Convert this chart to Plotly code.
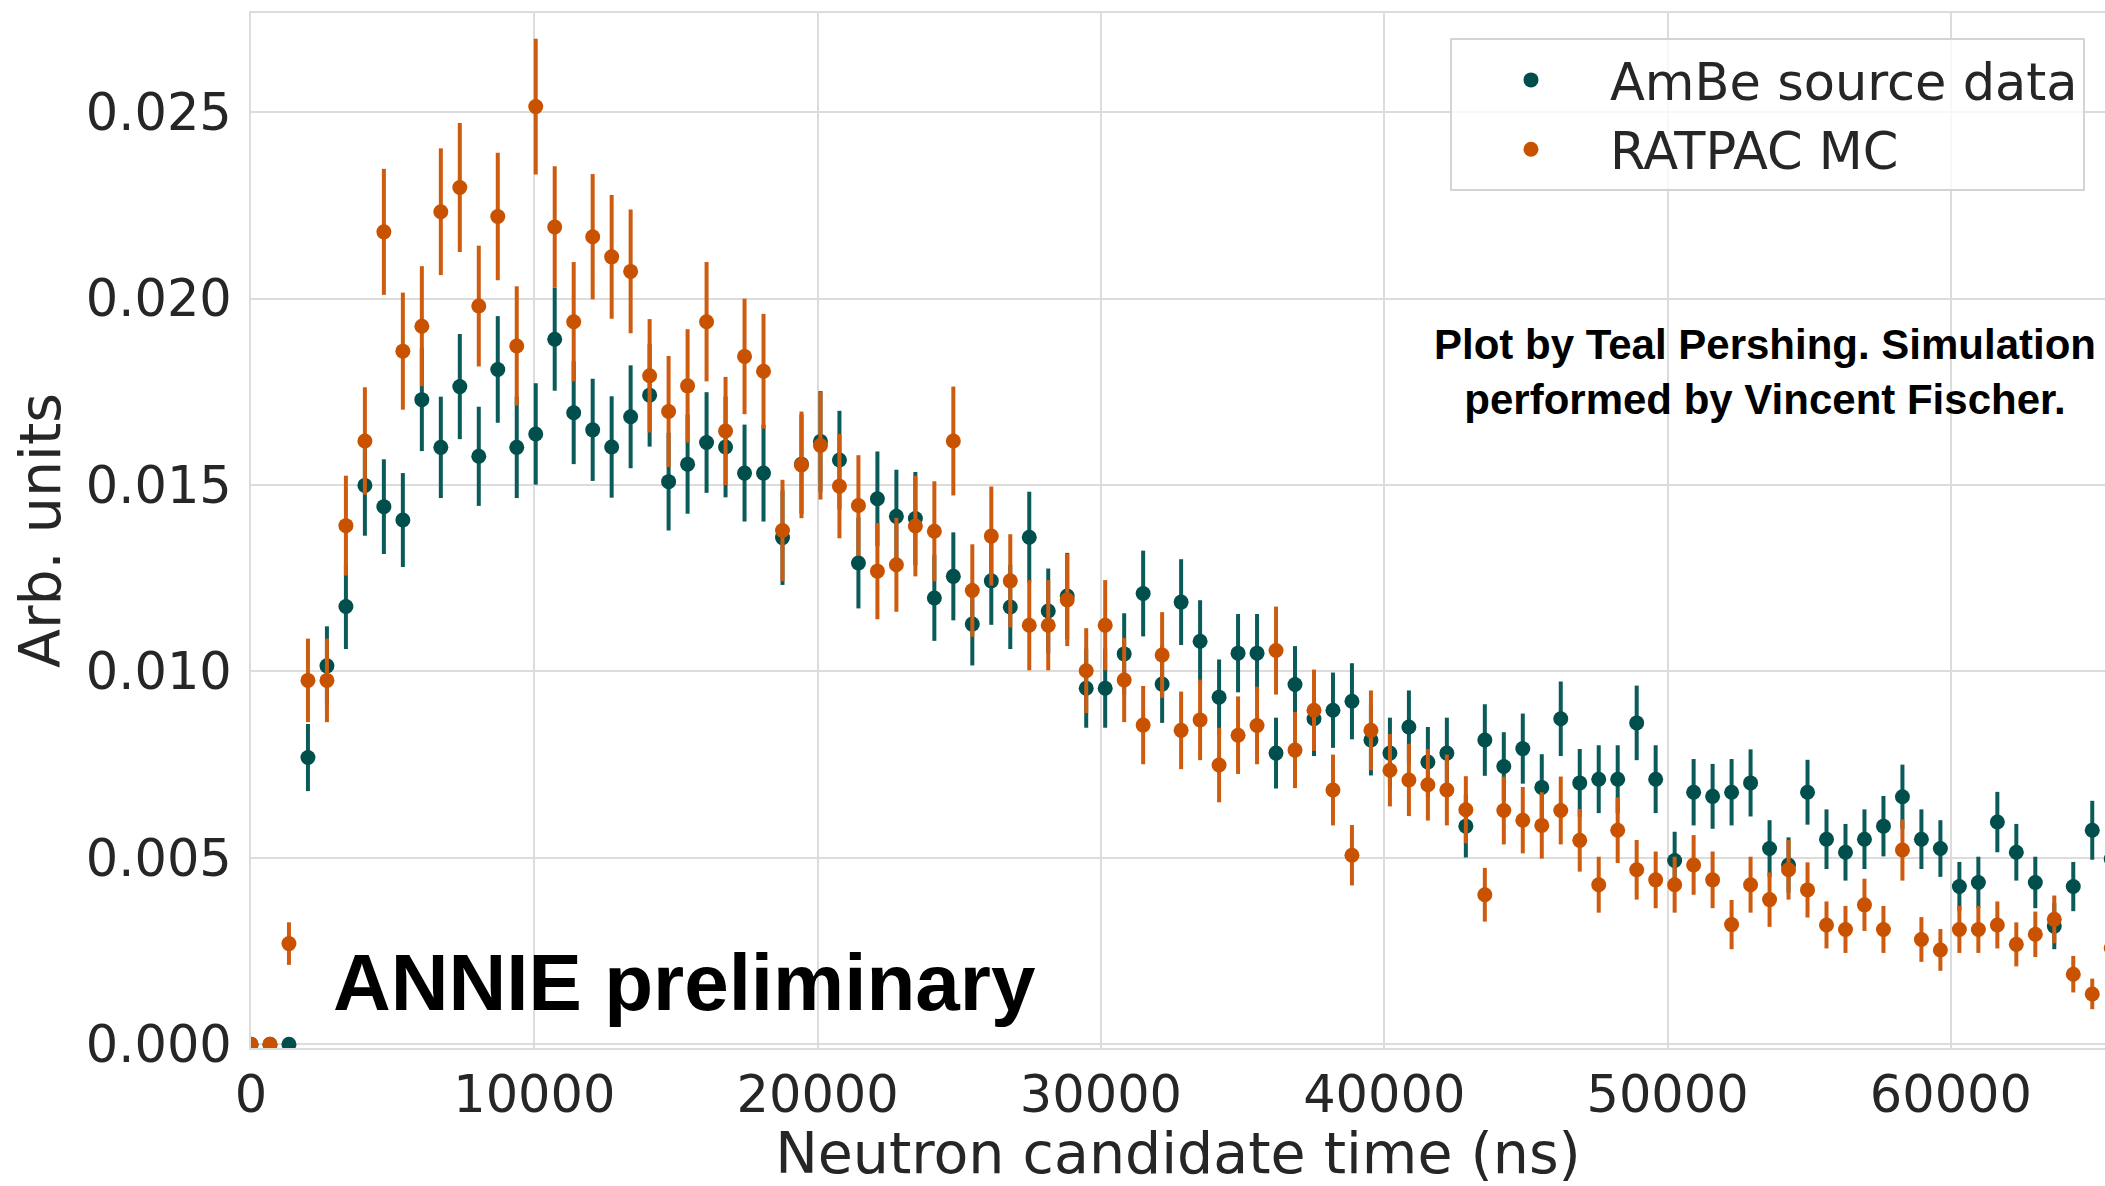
import plotly.graph_objects as go

# ---- data ----
time_ns = [0, 670, 1340, 2010, 2680, 3350, 4020, 4690, 5360, 6030, 6700, 7370, 8040, 8710,
           9380, 10050, 10720, 11390, 12060, 12730, 13400, 14070, 14740, 15410, 16080, 16750,
           17420, 18090, 18760, 19430, 20100, 20770, 21440, 22110, 22780, 23450, 24120, 24790,
           25460, 26130, 26800, 27470, 28140, 28810, 29480, 30150, 30820, 31490, 32160, 32830,
           33500, 34170, 34840, 35510, 36180, 36850, 37520, 38190, 38860, 39530, 40200, 40870,
           41540, 42210, 42880, 43550, 44220, 44890, 45560, 46230, 46900, 47570, 48240, 48910,
           49580, 50250, 50920, 51590, 52260, 52930, 53600, 54270, 54940, 55610, 56280, 56950,
           57620, 58290, 58960, 59630, 60300, 60970, 61640, 62310, 62980, 63650, 64320, 64990,
           65660]

ambe_data = [0.0, 0.0, 0.0, 0.00769, 0.01015, 0.01174, 0.01499, 0.01442, 0.01406, 0.01729,
             0.01601, 0.01764, 0.01577, 0.01810, 0.01601, 0.01637, 0.01891, 0.01694, 0.01648,
             0.01602, 0.01683, 0.01741, 0.01509, 0.01556, 0.01614, 0.01602, 0.01532, 0.01532,
             0.01359, 0.01556, 0.01617, 0.01567, 0.01291, 0.01463, 0.01416, 0.01410, 0.01197,
             0.01255, 0.01127, 0.01243, 0.01173, 0.01360, 0.01162, 0.01202, 0.00955, 0.00955,
             0.01047, 0.01209, 0.00966, 0.01186, 0.01081, 0.00931, 0.01049, 0.01049, 0.00781,
             0.00965, 0.00873, 0.00896, 0.00920, 0.00816, 0.00781, 0.00851, 0.00757, 0.00781,
             0.00585, 0.00816, 0.00745, 0.00793, 0.00689, 0.00873, 0.00701, 0.00711, 0.00711,
             0.00862, 0.00711, 0.00493, 0.00676, 0.00665, 0.00676, 0.00701, 0.00525, 0.00481,
             0.00676, 0.00550, 0.00515, 0.00550, 0.00585, 0.00664, 0.00550, 0.00525, 0.00423,
             0.00434, 0.00596, 0.00515, 0.00434, 0.00317, 0.00423, 0.00574, 0.00497]

ambe_err = [0.0, 0.0, 0.0, 0.00090, 0.00106, 0.00114, 0.00135, 0.00127, 0.00126, 0.00138,
            0.00136, 0.00141, 0.00133, 0.00143, 0.00136, 0.00136, 0.00138, 0.00138, 0.00137,
            0.00136, 0.00138, 0.00138, 0.00131, 0.00133, 0.00135, 0.00135, 0.00130, 0.00130,
            0.00127, 0.00133, 0.00135, 0.00132, 0.00122, 0.00127, 0.00125, 0.00125, 0.00115,
            0.00118, 0.00111, 0.00118, 0.00113, 0.00122, 0.00114, 0.00116, 0.00106, 0.00106,
            0.00109, 0.00115, 0.00104, 0.00115, 0.00110, 0.00101, 0.00105, 0.00105, 0.00095,
            0.00103, 0.00100, 0.00101, 0.00102, 0.00095, 0.00095, 0.00098, 0.00094, 0.00095,
            0.00084, 0.00096, 0.00092, 0.00094, 0.00089, 0.00100, 0.00091, 0.00091, 0.00091,
            0.00100, 0.00091, 0.00077, 0.00089, 0.00087, 0.00089, 0.00090, 0.00076, 0.00074,
            0.00087, 0.00080, 0.00076, 0.00080, 0.00081, 0.00086, 0.00080, 0.00076, 0.00066,
            0.00069, 0.00081, 0.00076, 0.00069, 0.00062, 0.00066, 0.00079, 0.00074]

ratpac_mc = [0.0, 0.0, 0.00270, 0.00976, 0.00976, 0.01391, 0.01618, 0.02179, 0.01859, 0.01926,
             0.02233, 0.02298, 0.01980, 0.02220, 0.01873, 0.02515, 0.02192, 0.01938, 0.02166,
             0.02112, 0.02073, 0.01793, 0.01697, 0.01766, 0.01938, 0.01645, 0.01845, 0.01805,
             0.01378, 0.01554, 0.01606, 0.01497, 0.01445, 0.01269, 0.01286, 0.01390, 0.01376,
             0.01618, 0.01217, 0.01363, 0.01243, 0.01124, 0.01124, 0.01192, 0.01002, 0.01124,
             0.00977, 0.00856, 0.01044, 0.00842, 0.00870, 0.00749, 0.00829, 0.00855, 0.01056,
             0.00789, 0.00896, 0.00682, 0.00507, 0.00842, 0.00735, 0.00709, 0.00696, 0.00682,
             0.00629, 0.00401, 0.00627, 0.00601, 0.00587, 0.00627, 0.00547, 0.00428, 0.00574,
             0.00468, 0.00441, 0.00428, 0.00481, 0.00441, 0.00321, 0.00428, 0.00388, 0.00468,
             0.00414, 0.00320, 0.00308, 0.00374, 0.00308, 0.00521, 0.00281, 0.00253, 0.00308,
             0.00308, 0.00320, 0.00268, 0.00295, 0.00335, 0.00188, 0.00135, 0.00258]

ratpac_err = [0.0, 0.0, 0.00057, 0.00112, 0.00112, 0.00134, 0.00144, 0.00169, 0.00157, 0.00161,
              0.00170, 0.00173, 0.00162, 0.00171, 0.00160, 0.00182, 0.00163, 0.00160, 0.00168,
              0.00166, 0.00166, 0.00152, 0.00149, 0.00152, 0.00160, 0.00145, 0.00155, 0.00154,
              0.00136, 0.00143, 0.00145, 0.00140, 0.00135, 0.00129, 0.00126, 0.00135, 0.00134,
              0.00146, 0.00124, 0.00133, 0.00125, 0.00121, 0.00121, 0.00124, 0.00114, 0.00121,
              0.00113, 0.00105, 0.00115, 0.00104, 0.00108, 0.00100, 0.00104, 0.00104, 0.00118,
              0.00102, 0.00109, 0.00095, 0.00081, 0.00107, 0.00097, 0.00097, 0.00096, 0.00095,
              0.00090, 0.00072, 0.00091, 0.00089, 0.00089, 0.00091, 0.00084, 0.00075, 0.00088,
              0.00080, 0.00076, 0.00075, 0.00080, 0.00076, 0.00066, 0.00075, 0.00073, 0.00080,
              0.00074, 0.00063, 0.00063, 0.00070, 0.00063, 0.00082, 0.00060, 0.00056, 0.00063,
              0.00063, 0.00063, 0.00059, 0.00061, 0.00064, 0.00049, 0.00041, 0.00056]

x_tickvals = [0, 10000, 20000, 30000, 40000, 50000, 60000]
x_ticktext = ["0", "10000", "20000", "30000", "40000", "50000", "60000"]
y_tickvals = [0.0, 0.005, 0.010, 0.015, 0.020, 0.025]
y_ticktext = ["0.000", "0.005", "0.010", "0.015", "0.020", "0.025"]

# ---- styles ----
TEAL = "#004f4d"
TEAL_BAR = "#0a5b59"
ORANGE = "#c85200"
ORANGE_BAR = "#cd5b10"
GRID = "#dcdcdc"
TXT = "#262626"
FONT = "DejaVu Sans"

fig = go.Figure()
fig.add_trace(go.Scatter(
    x=time_ns, y=ambe_data, mode="markers", name="AmBe source data",
    marker=dict(color=TEAL, size=15),
    error_y=dict(type="data", array=ambe_err, color=TEAL_BAR, thickness=4, width=0),
))
fig.add_trace(go.Scatter(
    x=time_ns, y=ratpac_mc, mode="markers", name="RATPAC MC",
    marker=dict(color=ORANGE, size=15),
    error_y=dict(type="data", array=ratpac_err, color=ORANGE_BAR, thickness=4, width=0),
))

axis_common = dict(
    showgrid=True, gridcolor=GRID, gridwidth=2, zeroline=False,
    showline=True, linecolor=GRID, linewidth=2, ticks="",
    tickfont=dict(family=FONT, size=51, color=TXT),
)

fig.update_layout(
    width=2105, height=1186,
    margin=dict(l=251, r=0, t=13, b=130),
    paper_bgcolor="white", plot_bgcolor="white",
    font=dict(family=FONT, color=TXT),
    xaxis=dict(
        range=[0, 65440], tickvals=x_tickvals, ticktext=x_ticktext, mirror=True,
        ticklabelstandoff=1,
        title=dict(text="Neutron candidate time (ns)", font=dict(family=FONT, size=57, color=TXT), standoff=22),
        **axis_common,
    ),
    yaxis=dict(
        range=[-0.0001, 0.02766], tickvals=y_tickvals, ticktext=y_ticktext,
        ticklabelstandoff=7,
        title=dict(text="Arb. units", font=dict(family=FONT, size=57, color=TXT), standoff=7),
        **axis_common,
    ),
    showlegend=True,
    legend=dict(
        x=0.6467, y=0.9756, xanchor="left", yanchor="top",
        font=dict(family=FONT, size=51, color=TXT),
        bgcolor="rgba(255,255,255,0.8)", bordercolor="#d4d4d4", borderwidth=2,
        itemwidth=148, traceorder="grouped", tracegroupgap=11,
    ),
    annotations=[
        dict(text="ANNIE preliminary", xref="paper", yref="paper", x=0.043, y=0.0633,
             xanchor="left", yanchor="middle", showarrow=False,
             font=dict(family="Liberation Sans, Arial", size=80, color="black", weight="bold")),
        dict(text="Plot by Teal Pershing. Simulation<br>performed by Vincent Fischer.",
             xref="paper", yref="paper", x=0.8166, y=0.653, xanchor="center", yanchor="middle",
             align="center", showarrow=False,
             font=dict(family="Liberation Sans, Arial", size=42, color="black", weight="bold")),
    ],
)

fig.write_html("out.html")
